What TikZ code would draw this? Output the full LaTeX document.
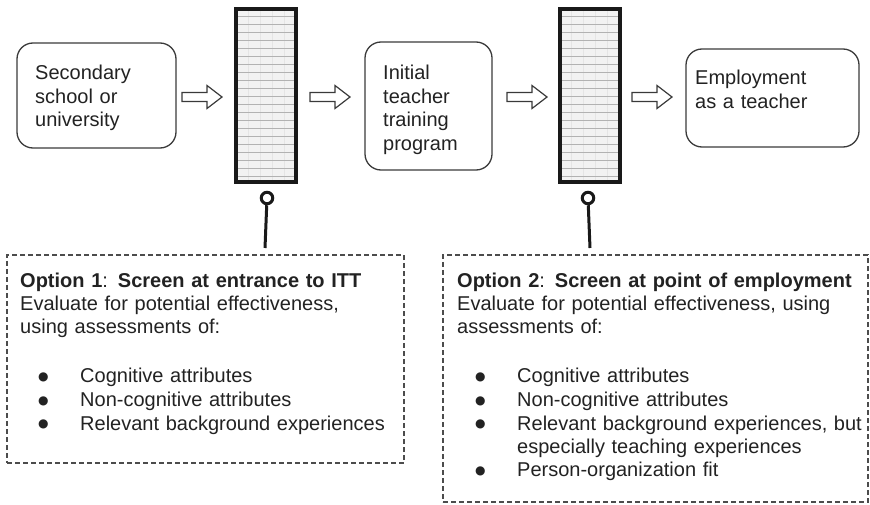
\documentclass[tikz,border=0pt]{standalone}
\usepackage{fontspec}
\setmainfont{Liberation Sans}
\newfontfamily\dejavu{DejaVu Sans}
\definecolor{txt}{HTML}{222222}
\definecolor{edge}{HTML}{3A3A3A}
\newcommand\myblt{\hspace*{18pt}\makebox[42pt][l]{\raisebox{2.5pt}{\dejavu\fontsize{12}{12}\selectfont ●}}}
\begin{document}
\begin{tikzpicture}[x=1pt,y=-1pt,
  font=\fontsize{20}{23.5}\selectfont, text=txt,
  stage/.style={draw=edge, line width=1.3pt, rounded corners=16pt, inner sep=0pt},
  stagetext/.style={anchor=base west, align=left, inner sep=0pt, text width=200pt},
  filterbox/.style={draw=black!90, line width=4pt, fill=black!5, inner sep=0pt,
    minimum width=60pt, minimum height=173pt,
    path picture={
      \foreach \k in {1,...,4}{\draw[black!10, line width=0.8pt]
        ([xshift=\k*12pt]path picture bounding box.north west) --
        ([xshift=\k*12pt]path picture bounding box.south west);}
      \foreach \k in {1,...,21}{\draw[black!30, line width=1pt]
        ([yshift=-\k*8pt]path picture bounding box.north west) --
        ([yshift=-\k*8pt]path picture bounding box.north east);}
    }},
  knob/.style={circle, draw=black!90, line width=3pt, fill=white, minimum size=11.5pt, inner sep=0pt},
  stem/.style={line width=3pt, draw=black!90},
  optbox/.style={draw=black!70, line width=1.3pt, dash pattern=on 5pt off 3pt, inner sep=0pt},
  opttext/.style={anchor=base west, align=left, inner sep=0pt, text width=420pt},
  barrow/.pic={\draw[draw=edge, line width=1.2pt, fill=white, line join=miter]
     (0,-4.5) -- (25,-4.5) -- (25,-11.5) -- (40,0) -- (25,11.5) -- (25,4.5) -- (0,4.5) -- cycle;}
]
\useasboundingbox (0,0) rectangle (870,505);

% stage boxes
\node[stage, minimum width=159pt, minimum height=105pt] (s1) at (96.5,95.5) {};
\node[stagetext] (s1t) at (35,80) {Secondary\\school or\\university};

\node[stage, minimum width=127pt, minimum height=128pt] (s2) at (428.5,106) {};
\node[stagetext] (s2t) at (383,80) {Initial\\teacher\\training\\program};

\node[stage, minimum width=173pt, minimum height=98pt] (s4) at (772.5,98) {};
\node[stagetext] (s4t) at (695,85) {Employment\\as a teacher};

% filters
\node[filterbox] (f1) at (266,95.5) {};
\node[filterbox] (f2) at (589.5,95.5) {};

% block arrows
\pic (a1) at (182,97) {barrow};
\pic (a2) at (310,97) {barrow};
\pic (a3) at (507,97) {barrow};
\pic (a4) at (632,97) {barrow};

% lollipops
\node[knob] (c1) at (267,198) {};
\coordinate (p1) at (265,248);
\draw[stem] (c1) -- (p1);
\node[knob] (c2) at (588,198) {};
\coordinate (p2) at (590,248);
\draw[stem] (c2) -- (p2);

% option boxes
\node[optbox, minimum width=397pt, minimum height=208pt] (o1) at (205.5,359) {};
\node[opttext] (o1t) at (20,287) {\textbf{Option 1}: \textbf{Screen at entrance to ITT}\\
Evaluate for potential effectiveness,\\
using assessments of:\\[25.5pt]
\myblt Cognitive attributes\\
\myblt Non-cognitive attributes\\
\myblt Relevant background experiences};

\node[optbox, minimum width=425pt, minimum height=247pt] (o2) at (655.5,378.5) {};
\node[opttext] (o2t) at (457,287) {\textbf{Option 2}: \textbf{Screen at point of employment}\\
Evaluate for potential effectiveness, using\\
assessments of:\\[25.5pt]
\myblt Cognitive attributes\\
\myblt Non-cognitive attributes\\
\myblt Relevant background experiences, but\\
\hspace*{60pt}especially teaching experiences\\
\myblt Person-organization fit};
\end{tikzpicture}
\end{document}
